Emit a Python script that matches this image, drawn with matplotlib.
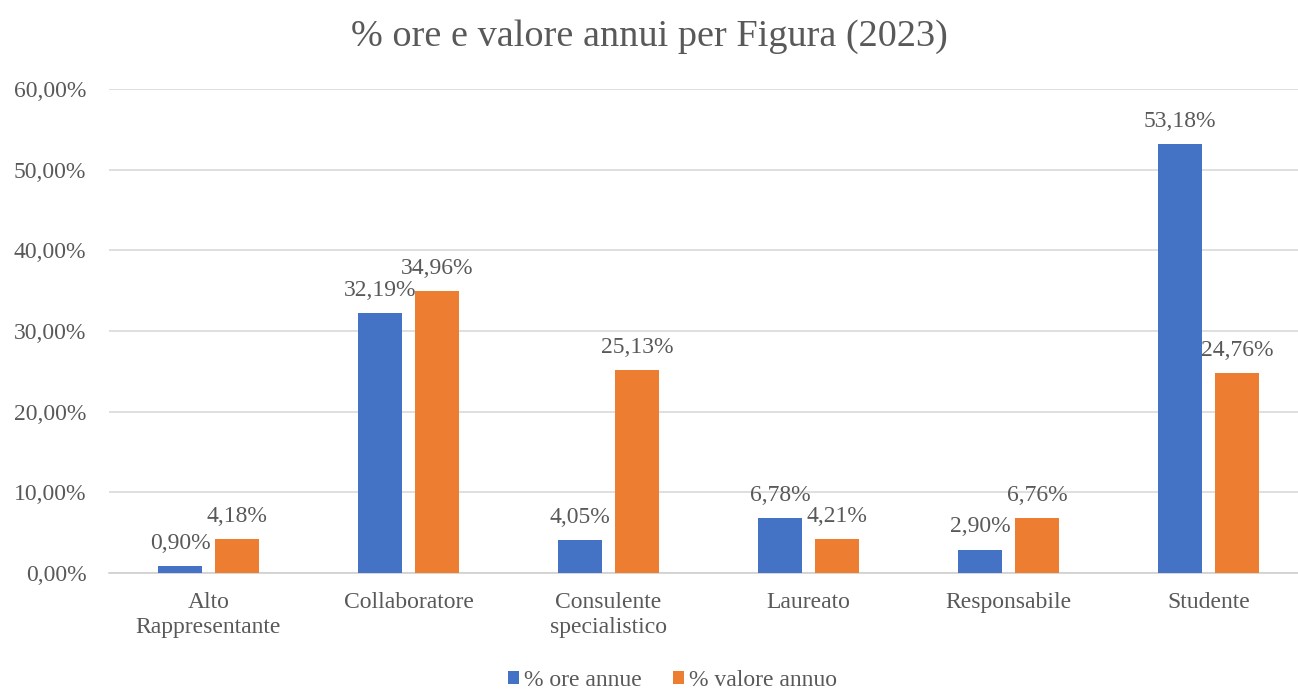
import numpy as np
import matplotlib.pyplot as plt
from matplotlib.ticker import FuncFormatter

categories = ["Alto\nRappresentante", "Collaboratore", "Consulente\nspecialistico",
              "Laureato", "Responsabile", "Studente"]
ore_annue = [0.90, 32.19, 4.05, 6.78, 2.90, 53.18]
valore_annuo = [4.18, 34.96, 25.13, 4.21, 6.76, 24.76]

blue = "#4472C4"
orange = "#ED7D31"
txt = "#595959"
plt.rcParams['font.family'] = ['Liberation Serif', 'DejaVu Serif']

fig = plt.figure(figsize=(12.98, 6.97), dpi=100)
# plot area runs past the right edge, as in the reference
ax = fig.add_axes([0.0836, 0.178, 0.9245, 0.6944])

x = np.arange(len(categories))
w = 0.22
gap = 0.065
b1 = ax.bar(x - (w + gap) / 2, ore_annue, w, color=blue, label="% ore annue", zorder=3)
b2 = ax.bar(x + (w + gap) / 2, valore_annuo, w, color=orange, label="% valore annuo", zorder=3)

def fmt(v):
    return f"{v:.2f}".replace(".", ",") + "%"

for bars, vals in ((b1, ore_annue), (b2, valore_annuo)):
    for b, v in zip(bars, vals):
        ax.text(b.get_x() + b.get_width() / 2, v + 1.5, fmt(v),
                ha="center", va="bottom", fontsize=17, color=txt)

ax.set_ylim(0, 60)
ax.set_xlim(-0.5, len(categories) - 0.5)
ax.set_yticks(np.arange(0, 61, 10))
ax.yaxis.set_major_formatter(FuncFormatter(lambda v, p: fmt(v)))
ax.set_xticks(x)
ax.set_xticklabels(categories)
ax.tick_params(axis="both", length=0, labelsize=17, labelcolor=txt)
ax.tick_params(axis="x", pad=14)
ax.tick_params(axis="y", pad=16)
ax.grid(axis="y", color="#D9D9D9", linewidth=1.2, zorder=0)
for s in ["top", "right", "left"]:
    ax.spines[s].set_visible(False)
ax.spines["bottom"].set_color("#D0D0D0")
ax.spines["bottom"].set_linewidth(1.2)

fig.suptitle("% ore e valore annui per Figura (2023)", y=0.972, fontsize=27.5, color=txt)
fig.legend(loc="lower center", ncol=2, frameon=False, fontsize=17,
           bbox_to_anchor=(0.518, -0.022), handlelength=0.5, handleheight=0.5,
           columnspacing=1.3, handletextpad=0.2, labelcolor=txt)

fig.savefig("out.png", dpi=100)
